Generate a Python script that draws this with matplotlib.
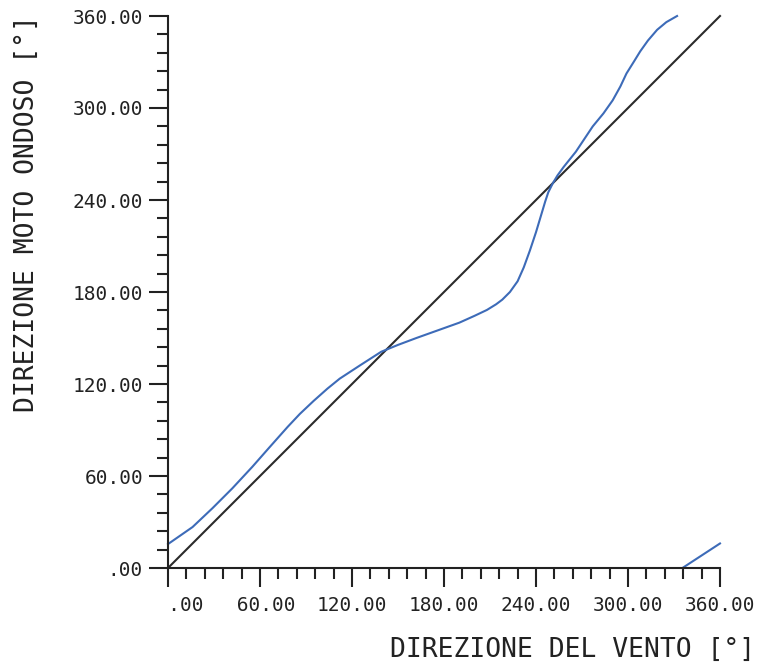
import numpy as np
import matplotlib
matplotlib.use("Agg")
import matplotlib.pyplot as plt
from matplotlib.ticker import MultipleLocator, FixedLocator

# ============================================================
# dati
# ============================================================

# direzione vento -> direzione moto ondoso (curva blu, primo ramo)
vento = [0, 16, 29, 42, 55, 66, 78, 86, 95, 104, 112, 125, 139, 150, 162,
         176, 190, 200, 208, 214, 218, 223, 228, 232, 236, 240, 243, 246,
         248, 251, 254, 258, 262, 266, 271, 277, 284, 290, 295, 299, 304,
         308, 313, 319, 325, 332]
onda = [15.6, 26.7, 39, 52, 66, 78.5, 92, 100.5, 109, 117, 123.5, 132, 141,
        145.5, 150, 155, 160, 164.5, 168.3, 172, 175, 180, 187, 196, 207,
        219, 229, 239, 245, 251, 256, 261.5, 266.5, 271.5, 279, 288, 296.5,
        305, 314, 322.5, 330.5, 337, 344, 351, 356, 360]

# secondo ramo (ritorno oltre 360 gradi)
vento_2 = [335.5, 360]
onda_2 = [0, 16]

# bisettrice
diag_x = [0, 360]
diag_y = [0, 360]

tick_valori = [0, 60, 120, 180, 240, 300, 360]
tick_etichette = ["   .00", " 60.00", "120.00", "180.00", "240.00", "300.00", "360.00"]

# ============================================================
# grafico
# ============================================================

W, H = 772, 666
fig = plt.figure(figsize=(W / 100, H / 100), dpi=100)
ax = fig.add_axes([168 / W, 1 - 568 / H, 552 / W, 552 / H])

font_mono = "DejaVu Sans Mono"
testo_col = "#222222"

ax.plot(diag_x, diag_y, color="#2b2b2b", linewidth=1.5, clip_on=False)
ax.plot(vento, onda, color="#3d6bb8", linewidth=1.5, clip_on=False)
ax.plot(vento_2, onda_2, color="#3d6bb8", linewidth=1.5, clip_on=False)

ax.set_xlim(0, 360)
ax.set_ylim(0, 360)

for s in ["top", "right"]:
    ax.spines[s].set_visible(False)
for s in ["left", "bottom"]:
    ax.spines[s].set_linewidth(1.5)
    ax.spines[s].set_color("#222222")

ax.xaxis.set_major_locator(FixedLocator(tick_valori))
ax.yaxis.set_major_locator(FixedLocator(tick_valori))
ax.xaxis.set_minor_locator(MultipleLocator(12))
ax.yaxis.set_minor_locator(MultipleLocator(12))
ax.set_xticklabels(tick_etichette)
ax.set_yticklabels([t.strip() for t in tick_etichette])

ax.tick_params(which="major", length=14, width=1.5, color="#222222",
               labelsize=14, labelcolor=testo_col, pad=4)
ax.tick_params(which="minor", length=8, width=1.5, color="#222222")
ax.tick_params(axis="x", which="major", pad=6)

for lab in ax.get_xticklabels() + ax.get_yticklabels():
    lab.set_family(font_mono)

fig.text(27 / W, 1 - 15 / H, "DIREZIONE MOTO ONDOSO [°]", rotation=90,
         ha="center", va="top", fontsize=19, family=font_mono, color=testo_col)
fig.text(755 / W, 1 - 650 / H, "DIREZIONE DEL VENTO [°]",
         ha="right", va="center", fontsize=19, family=font_mono, color=testo_col)

fig.savefig("out.png", dpi=100)
